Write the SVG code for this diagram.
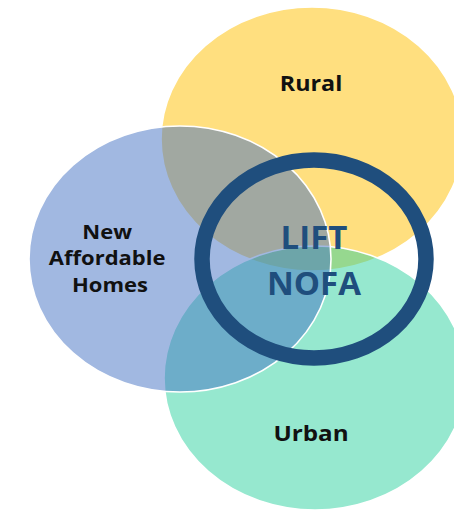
<svg xmlns="http://www.w3.org/2000/svg" width="454" height="510" viewBox="0 0 454 510">
  <style>
    .set { fill-opacity: 0.5; stroke: #ffffff; stroke-width: 1.6; }
    .lbl { font-family: "Open Sans", "Liberation Sans", sans-serif; font-weight: 700; fill: #111111; text-anchor: middle; }
    .core { font-family: "Open Sans", "Liberation Sans", sans-serif; font-weight: 700; fill: #1F4E7D; text-anchor: middle; font-size: 33px; }
  </style>
  <rect width="454" height="510" fill="#ffffff"/>
  <g id="node-rural">
    <ellipse class="set" cx="312" cy="139" rx="151" ry="132" fill="#FFC000"/>
    <text class="lbl" font-size="22" transform="translate(311 91) scale(1.06 1)" x="0" y="0">Rural</text>
  </g>
  <g id="node-urban">
    <ellipse class="set" cx="315" cy="378" rx="151" ry="132" fill="#2DD19F"/>
    <text class="lbl" font-size="22" transform="translate(311 441) scale(1.1 1)" x="0" y="0">Urban</text>
  </g>
  <g id="node-homes">
    <ellipse class="set" cx="180" cy="259" rx="151" ry="133" fill="#4472C4"/>
    <text class="lbl" font-size="20" transform="translate(110 0) scale(1.1 1)">
      <tspan x="0" y="239">New</tspan>
      <tspan x="0" y="265">Affordable</tspan>
      <tspan x="0" y="292">Homes</tspan>
    </text>
  </g>
  <g id="node-lift">
    <ellipse cx="314" cy="259" rx="112" ry="99" fill="none" stroke="#1F4E7D" stroke-width="15.5"/>
    <text class="core" x="314" y="249">LIFT</text>
    <text class="core" x="314" y="295">NOFA</text>
  </g>
</svg>
